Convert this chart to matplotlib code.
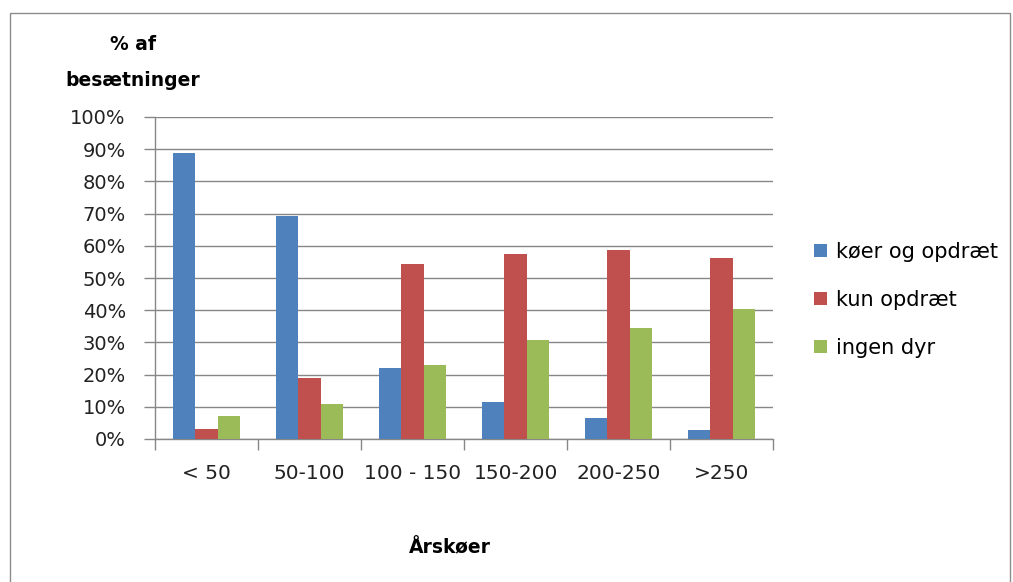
import numpy as np
import matplotlib.pyplot as plt
from matplotlib.patches import Rectangle
from matplotlib.ticker import FixedLocator, PercentFormatter

categories = ["< 50", "50-100", "100 - 150", "150-200", "200-250", ">250"]
koer_og_opdraet = [88.9, 69.1, 21.9, 11.4, 6.4, 2.7]
kun_opdraet = [3.2, 18.8, 54.2, 57.3, 58.6, 56.1]
ingen_dyr = [7.0, 10.8, 23.1, 30.7, 34.4, 40.5]
series_names = ["køer og opdræt", "kun opdræt", "ingen dyr"]

colors = ["#4F81BD", "#C0504D", "#9BBB59"]
grid_col = "#878787"

fig = plt.figure(figsize=(10.13, 5.82), dpi=100)
fig.patches.append(Rectangle((10 / 1013, -0.01), 1000 / 1013, 1 - 13 / 582 + 0.01,
                             transform=fig.transFigure, fill=False,
                             edgecolor="#8c8c8c", linewidth=1))
ax = fig.add_axes([155 / 1013, 1 - 439 / 582, (773 - 155) / 1013, (439 - 117) / 582])

x = np.arange(len(categories))
w = 0.218
for i, (vals, name) in enumerate(zip([koer_og_opdraet, kun_opdraet, ingen_dyr], series_names)):
    ax.bar(x + (i - 1) * w, vals, width=w, color=colors[i], label=name, zorder=3)

ax.set_xlim(-0.5, len(categories) - 0.5)
ax.set_ylim(0, 100)
ax.yaxis.set_major_locator(FixedLocator(np.arange(0, 101, 10)))
ax.yaxis.set_major_formatter(PercentFormatter(decimals=0))
ax.set_xticks(x)
ax.set_xticklabels(categories)
ax.xaxis.set_minor_locator(FixedLocator(np.arange(-0.5, len(categories), 1)))
ax.tick_params(axis="x", which="major", length=0, pad=18, labelsize=14.5, colors="#222222")
ax.tick_params(axis="x", which="minor", length=8, color=grid_col, width=1)
ax.tick_params(axis="y", length=8, color=grid_col, width=1, labelsize=14, pad=13, labelcolor="#222222")

ax.grid(axis="y", color=grid_col, linewidth=1, zorder=0)
for s in ["top", "right"]:
    ax.spines[s].set_visible(False)
for s in ["left", "bottom"]:
    ax.spines[s].set_color(grid_col)
    ax.spines[s].set_linewidth(1)

fig.text(133 / 1013, 1 - 45 / 582, "% af", ha="center", va="center", fontsize=13.5, fontweight="bold")
fig.text(133 / 1013, 1 - 81 / 582, "besætninger", ha="center", va="center", fontsize=13.5, fontweight="bold")
fig.text(450 / 1013, 1 - 548 / 582, "Årskøer", ha="center", va="center", fontsize=13.5, fontweight="bold")

leg = ax.legend(loc="center left", bbox_to_anchor=(806 / 1013, 1 - 300 / 582),
                bbox_transform=fig.transFigure, frameon=False, fontsize=15,
                handlelength=0.6, handleheight=0.6, handletextpad=0.45,
                labelspacing=1.35, borderaxespad=0)

fig.savefig("out.png", dpi=100)
